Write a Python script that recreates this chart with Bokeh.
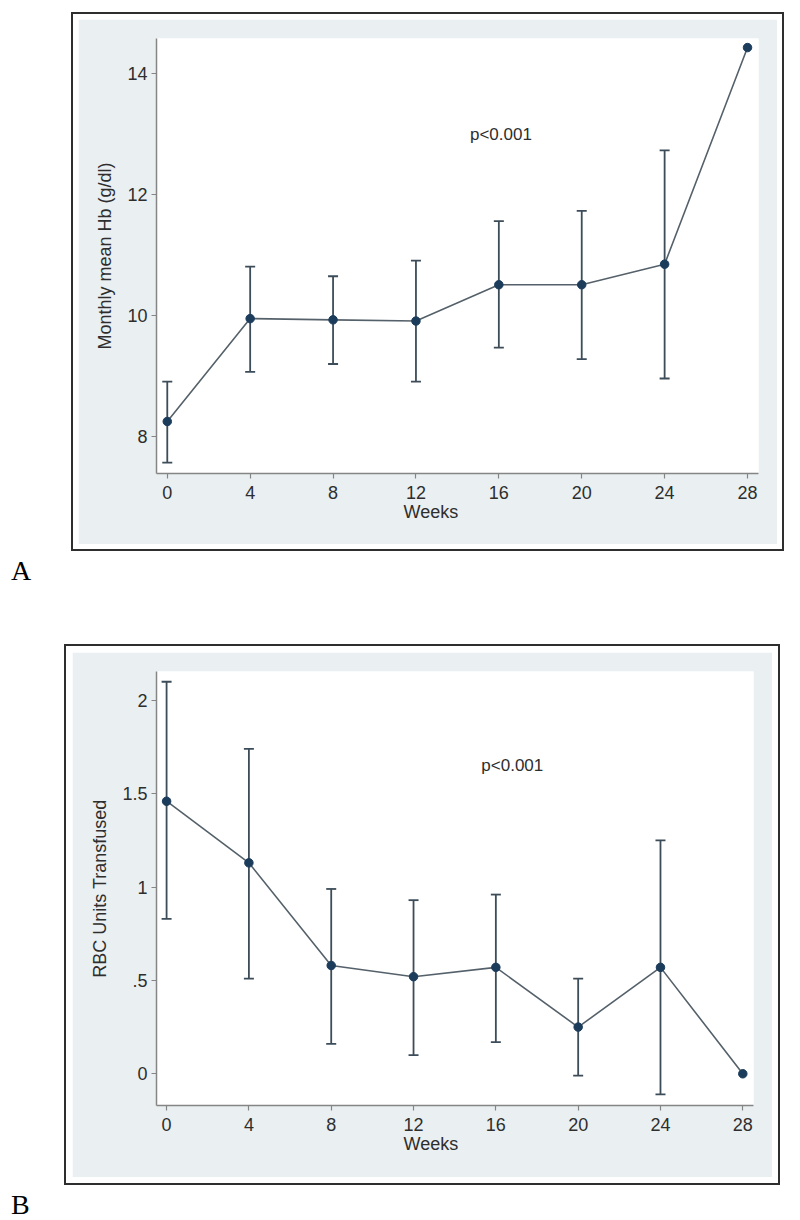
from bokeh.plotting import figure
from bokeh.models import ColumnDataSource, Whisker, TeeHead, FixedTicker, Label, Div, Title
from bokeh.layouts import column
from bokeh.embed import file_html
from bokeh.resources import INLINE

# ---- data ----
weeks = [0, 4, 8, 12, 16, 20, 24, 28]
eb_weeks = [0, 4, 8, 12, 16, 20, 24]

hb_mean = [8.25, 9.95, 9.93, 9.91, 10.51, 10.51, 10.85, 14.43]
hb_low = [7.57, 9.07, 9.20, 8.91, 9.47, 9.28, 8.96]
hb_high = [8.91, 10.81, 10.65, 10.91, 11.56, 11.73, 12.73]

rbc_mean = [1.46, 1.13, 0.58, 0.52, 0.57, 0.25, 0.57, 0.0]
rbc_low = [0.83, 0.51, 0.16, 0.10, 0.17, -0.01, -0.11]
rbc_high = [2.10, 1.74, 0.99, 0.93, 0.96, 0.51, 1.25]

hb_yticks = [8, 10, 12, 14]
rbc_yticks = [0, 0.5, 1, 1.5, 2]
rbc_ytick_labels = {0: "0", 0.5: ".5", 1: "1", 1.5: "1.5", 2: "2"}

FONT = "Liberation Sans"
GREY_BG = "#eaf0f2"
LINE_C = "#55616a"
BAR_C = "#3c4c58"
MARK_C = "#1c3c5c"
AXIS_C = "#858585"
TEXT_C = "#2e2e2e"


def make_panel(width, height, xr, yr, borders, means, lows, highs, yticks,
               ylabel, p_pos, overrides=None):
    p = figure(width=width, height=height, x_range=xr, y_range=yr,
               output_backend="svg", toolbar_location=None,
               min_border_left=borders[0], min_border_right=borders[1],
               min_border_top=borders[2], min_border_bottom=borders[3])
    p.border_fill_color = GREY_BG
    p.background_fill_color = "white"
    p.outline_line_color = None
    p.grid.visible = False

    p.xaxis.ticker = FixedTicker(ticks=weeks)
    p.yaxis.ticker = FixedTicker(ticks=yticks)
    if overrides:
        p.yaxis.major_label_overrides = overrides
    p.axis.minor_tick_line_color = None
    p.axis.major_tick_in = 0
    p.axis.major_tick_out = 5
    p.axis.axis_line_color = AXIS_C
    p.axis.axis_line_width = 1.5
    p.axis.major_tick_line_color = AXIS_C
    p.axis.major_tick_line_width = 1.2
    p.axis.major_label_text_font = FONT
    p.axis.major_label_text_font_size = "18px"
    p.axis.major_label_text_color = TEXT_C
    p.xaxis.major_label_standoff = 7
    p.yaxis.major_label_standoff = 4

    p.yaxis.axis_label = ylabel
    p.yaxis.axis_label_text_font = FONT
    p.yaxis.axis_label_text_font_size = "18px"
    p.yaxis.axis_label_text_font_style = "normal"
    p.yaxis.axis_label_text_color = TEXT_C
    p.yaxis.axis_label_standoff = 9

    # x-axis title, set a little left of centre as in the original
    p.add_layout(Title(text="Weeks", align="left", offset=247, standoff=0,
                       vertical_align="top", text_font=FONT,
                       text_font_size="18px", text_font_style="normal",
                       text_color=TEXT_C), "below")

    src = ColumnDataSource(dict(x=weeks, y=means))
    esrc = ColumnDataSource(dict(x=eb_weeks, lo=lows, hi=highs))

    p.line("x", "y", source=src, line_color=LINE_C, line_width=1.6)
    w = Whisker(base="x", lower="lo", upper="hi", source=esrc,
                line_color=BAR_C, line_width=1.8,
                upper_head=TeeHead(size=10, line_color=BAR_C, line_width=1.8),
                lower_head=TeeHead(size=10, line_color=BAR_C, line_width=1.8))
    p.add_layout(w)
    p.scatter("x", "y", source=src, size=8.5, fill_color=MARK_C,
              line_color=MARK_C)

    p.add_layout(Label(x=p_pos[0], y=p_pos[1], text="p<0.001",
                       text_align="center", text_baseline="middle",
                       text_font=FONT, text_font_size="17px",
                       text_color=TEXT_C))
    return p


pA = make_panel(699, 525, (-0.52, 28.53), (7.39, 14.58), (78, 19, 19, 71),
                hb_mean, hb_low, hb_high, hb_yticks,
                "Monthly mean Hb (g/dl)", (16.1, 13.0))
pA.margin = (19, 0, 0, 78)
pA.styles = {"box-shadow": "0 0 0 5px #ffffff, 0 0 0 7px #2e2e2e"}

pB = make_panel(700, 525, (-0.49, 28.52), (-0.170, 2.155), (84, 19, 19, 72),
                rbc_mean, rbc_low, rbc_high, rbc_yticks,
                "RBC Units Transfused", (16.8, 1.65),
                overrides=rbc_ytick_labels)
pB.margin = (67, 0, 0, 72)
pB.styles = {"box-shadow": "0 0 0 6px #ffffff, 0 0 0 8px #2e2e2e"}

lab_style = {"font-family": "Liberation Serif", "font-size": "28px",
             "line-height": "28px", "color": "#000000", "overflow": "visible"}
divA = Div(text="A", width=40, height=28, margin=(13, 0, 0, 11), styles=lab_style)
divB = Div(text="B", width=40, height=21, margin=(14, 0, 0, 11), styles=lab_style)

layout = column(column(pA, divA), column(pB, divB), spacing=0)

open("out.html", "w").write(file_html(layout, INLINE))
